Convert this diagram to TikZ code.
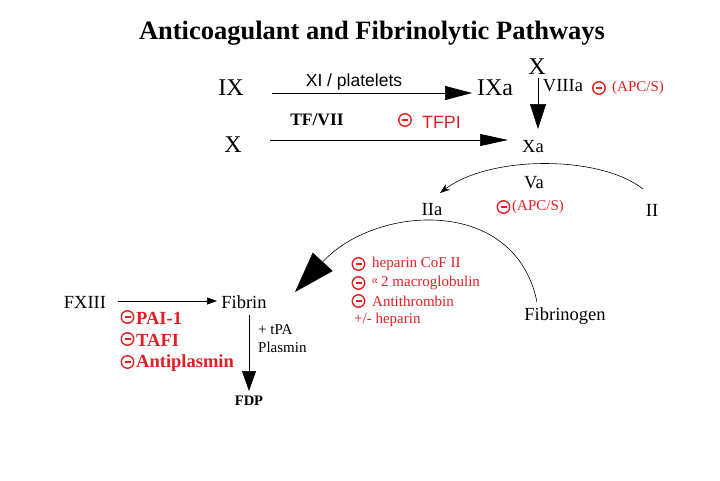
\documentclass[tikz,border=0pt]{standalone}
\usepackage{fontspec}
\setmainfont{Liberation Serif}
\newfontfamily\arialf{Liberation Sans}
\usetikzlibrary{arrows.meta}
\definecolor{inhib}{RGB}{228,30,36}
\tikzset{
  lbl/.style={inner sep=0pt, font=\fontsize{18.5}{20}\selectfont},
  big/.style={inner sep=0pt, font=\fontsize{24}{26}\selectfont},
  redtxt/.style={inner sep=0pt, anchor=west, text=inhib, font=\fontsize{15}{17}\selectfont},
  redbold/.style={inner sep=0pt, anchor=west, text=inhib, font=\bfseries\fontsize{18.5}{20}\selectfont},
  small/.style={inner sep=0pt, anchor=west, font=\fontsize{15}{17}\selectfont},
  ominus/.style={circle, draw=inhib, line width=1.4pt, minimum size=12.5pt, inner sep=0pt,
    path picture={\draw[inhib, line width=2pt] ([xshift=-3pt]path picture bounding box.center) -- ([xshift=3pt]path picture bounding box.center);}},
  conn/.style={line width=0.7pt},
}
\begin{document}
\begin{tikzpicture}[x=1pt,y=-1pt]
\useasboundingbox (0,0) rectangle (720,480);
% title
\node[inner sep=0pt, font=\bfseries\fontsize{26.5}{29}\selectfont] (title) at (372,33) {Anticoagulant and Fibrinolytic Pathways};

% top row
\node[big] (IX) at (231,88) {IX};
\node[big] (IXa) at (495,88) {IXa};
\node[big] (Xtop) at (537,67) {X};
\node[inner sep=0pt, font=\arialf\fontsize{17.5}{19}\selectfont] (xi) at (354,82) {XI / platelets};
\node[lbl] (VIIIa) at (563,86) {VIIIa};
\node[ominus] (om1) at (599,88) {};
\node[redtxt] (apc1) at (612,88) {(APC/S)};

\coordinate (IXs) at (272,93);
\coordinate (IXe) at (472,93);
\draw[conn, -{Triangle[length=27pt,width=14pt]}] (IXs) -- (IXe);

\coordinate (Xts) at (538,78);
\coordinate (Xte) at (538,129);
\draw[conn, -{Triangle[length=25pt,width=16pt]}] (Xts) -- (Xte);

% second row
\node[inner sep=0pt, font=\bfseries\fontsize{17.5}{19}\selectfont] (tf) at (317,120) {TF/VII};
\node[ominus] (om2) at (405,120) {};
\node[inner sep=0pt, anchor=west, text=inhib, font=\arialf\fontsize{17.8}{19}\selectfont] (tfpi) at (422,122) {TFPI};
\node[big] (X) at (233,145) {X};
\node[lbl] (Xa) at (533,147) {Xa};
\coordinate (Xs) at (270,140);
\coordinate (Xe) at (508,140);
\draw[conn, -{Triangle[length=28pt,width=12pt]}] (Xs) -- (Xe);

% prothrombin
\node[lbl] (Va) at (534,183) {Va};
\node[lbl] (IIa) at (432,210) {IIa};
\node[ominus] (om3) at (503.5,207) {};
\node[redtxt] (apc2) at (512,207) {(APC/S)};
\node[lbl] (II) at (652,210) {II};
\coordinate (IIs) at (643,189);
\coordinate (IIe) at (440,193);
\draw[line width=0.6pt, -{Stealth[length=10pt,width=7pt]}] (IIs) .. controls (600,155) and (490,155) .. (IIe);

% fibrinogen
\node[lbl] (Fgen) at (565,316) {Fibrinogen};
\coordinate (Fgs) at (537,302);
\coordinate (Fge) at (295,292);
\draw[line width=0.6pt, -{Triangle[length=41pt,width=27pt]}] (Fgs) .. controls (515,195) and (375,205) .. (Fge);

\node[ominus] (om4) at (358.5,264) {};
\node[redtxt] (hep) at (372,264) {heparin CoF II};
\node[ominus] (om5) at (358.5,283) {};
\node[redtxt] (mac) at (372,283) {\raisebox{3pt}{\fontsize{10}{10}\selectfont α} 2 macroglobulin};
\node[ominus] (om6) at (358.5,301) {};
\node[redtxt] (at) at (372,301) {Antithrombin};
\node[redtxt] (pm) at (354,320) {+/- heparin};

% fibrin
\node[lbl] (FXIII) at (85,302) {FXIII};
\node[lbl] (Fibrin) at (244,302) {Fibrin};
\coordinate (Fxs) at (118,301);
\coordinate (Fxe) at (217,301);
\draw[conn, -{Triangle[length=10pt,width=7pt]}] (Fxs) -- (Fxe);

\node[ominus] (om7) at (127.5,317) {};
\node[redbold] (pai) at (136,318) {PAI-1};
\node[ominus] (om8) at (127.5,339) {};
\node[redbold] (tafi) at (136,340) {TAFI};
\node[ominus] (om9) at (127.5,362) {};
\node[redbold] (anti) at (136,363) {Antiplasmin};

\coordinate (Fbs) at (249,315);
\coordinate (Fbe) at (249,391);
\draw[conn, -{Triangle[length=20pt,width=14pt]}] (Fbs) -- (Fbe);
\node[small] (tpa) at (258,330) {+ tPA};
\node[small] (plas) at (258,347) {Plasmin};
\node[inner sep=0pt, font=\bfseries\fontsize{14.5}{16}\selectfont] (FDP) at (249,401) {FDP};
\end{tikzpicture}
\end{document}
